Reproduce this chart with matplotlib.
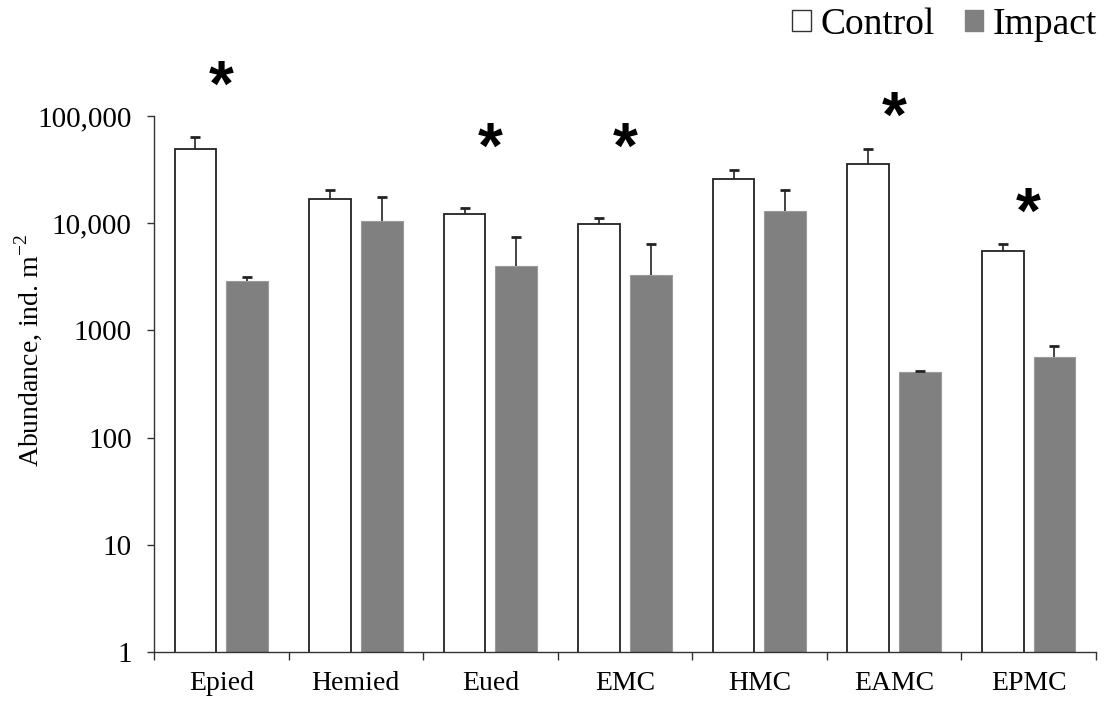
import matplotlib
matplotlib.use("Agg")
import matplotlib.pyplot as plt
import numpy as np
from matplotlib.patches import Patch

plt.rcParams["font.family"] = ["Liberation Serif", "DejaVu Serif"]
plt.rcParams["mathtext.fontset"] = "custom"
plt.rcParams["mathtext.rm"] = "Liberation Serif"

# Abundance per group (ind. m-2)
categories = ["Epied", "Hemied", "Eued", "EMC", "HMC", "EAMC", "EPMC"]
control = [48900, 16700, 12100, 9840, 26000, 35900, 5510]
control_err = [14400, 3600, 1660, 1410, 5330, 13300, 930]
impact = [2910, 10400, 4020, 3270, 13100, 412, 561]
impact_err = [260, 7130, 3370, 3080, 7300, 8, 159]

# significance stars (None = no star)
star_y = [233000, None, 62400, 62400, None, 121000, 15400]

yticks = [1, 10, 100, 1000, 10000, 100000]
ytick_labels = ["1", "10", "100", "1000", "10,000", "100,000"]

x = np.arange(len(categories))
w = 0.31
off = 0.192

fig = plt.figure(figsize=(11.08, 7.01), dpi=100)
ax = fig.add_axes([0.139, 0.0699, 0.850, 0.7646])
ax.set_yscale("log")

ax.bar(x - off, control, w, color="white", edgecolor="#222222", linewidth=1.3, zorder=2)
ax.bar(x + off, impact, w, color="#808080", edgecolor="#9a9a9a", linewidth=0.8, zorder=2)

# one-sided (upper) error bars
for xs, vals, errs in [(x - off, control, control_err), (x + off, impact, impact_err)]:
    tops = np.array(vals) + np.array(errs)
    ax.vlines(xs, vals, tops, color="#222222", linewidth=1.2, zorder=1)
    ax.plot(xs, tops, linestyle="none", marker="_", markersize=7, markeredgewidth=2,
            color="#222222", zorder=3)

for i, sy in enumerate(star_y):
    if sy is not None:
        ax.annotate("*", (x[i], sy), xytext=(0, -9), textcoords="offset points",
                    ha="center", va="center", fontsize=46, fontweight="bold",
                    family="Liberation Sans", annotation_clip=False)

ax.set_xlim(-0.5, len(categories) - 0.5)
ax.set_ylim(1, 100000)

ax.set_yticks(yticks)
ax.set_yticklabels(ytick_labels)
ax.yaxis.set_minor_locator(matplotlib.ticker.NullLocator())
ax.tick_params(axis="y", which="major", length=5, width=1, pad=11, labelsize=21, color="#333333")

ax.set_xticks(np.arange(-0.5, len(categories), 1.0))
ax.set_xticklabels([])
ax.set_xticks(x, minor=True)
ax.set_xticklabels(categories, minor=True)
ax.tick_params(axis="x", which="major", length=5.5, width=1, color="#333333")
ax.tick_params(axis="x", which="minor", length=0, pad=14, labelsize=20)

for s in ["top", "right"]:
    ax.spines[s].set_visible(False)
for s in ["left", "bottom"]:
    ax.spines[s].set_color("#333333")
    ax.spines[s].set_linewidth(1)

ax.set_ylabel("Abundance, ind. m$^{\\mathregular{-2}}$", fontsize=20)
ax.yaxis.set_label_coords(-0.117, 0.563)

handles = [Patch(facecolor="white", edgecolor="#333333", linewidth=1),
           Patch(facecolor="#808080", edgecolor="#808080")]
fig.legend(handles, ["Control", "Impact"], loc="upper right", bbox_to_anchor=(0.99, 0.99),
           ncol=2, frameon=False, fontsize=27, handlelength=0.5, handleheight=0.5,
           handletextpad=0.25, columnspacing=0.8, borderaxespad=0, borderpad=0)

fig.savefig("out.png", dpi=100)
